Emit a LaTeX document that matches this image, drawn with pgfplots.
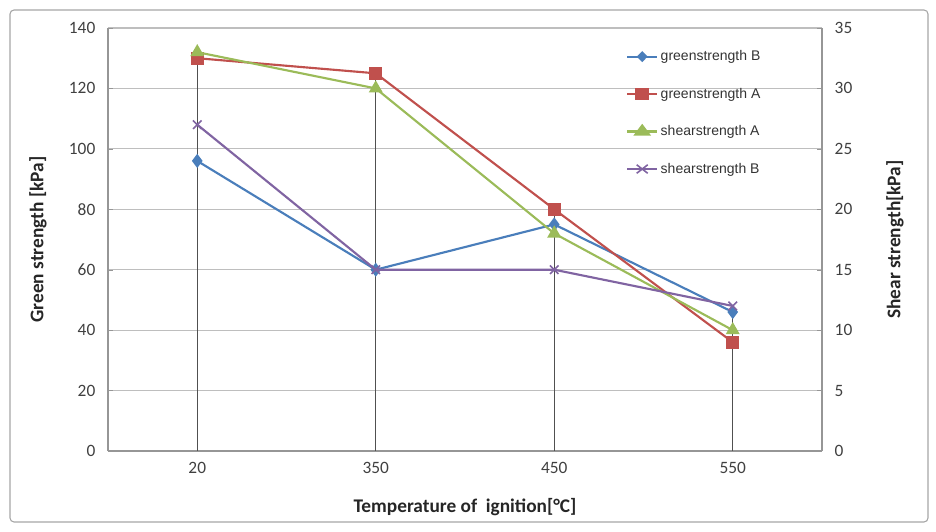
\documentclass[border=0pt]{standalone}
\usepackage{pgfplots}
\pgfplotsset{compat=1.18}
\usepackage{fontspec}
\setmainfont{Carlito}
\newfontfamily\legfont{Liberation Sans}
\definecolor{cblue}{RGB}{74,126,187}
\definecolor{cred}{RGB}{192,80,77}
\definecolor{cgreen}{RGB}{155,187,89}
\definecolor{cpurple}{RGB}{128,100,162}
\definecolor{gridc}{RGB}{190,190,190}
\definecolor{axc}{RGB}{150,150,150}
\definecolor{dropc}{RGB}{80,80,80}
\begin{document}
\begin{tikzpicture}
\path[use as bounding box] (0,0) rectangle (702pt,399pt);
\draw[rounded corners=3pt, color=gray!70, line width=0.8pt] (7.5pt,7.5pt) rectangle (696pt,391.5pt);
\pgfplotsset{
  every axis/.append style={
    scale only axis, width=535.5pt, height=317.25pt,
    at={(81pt,60.75pt)}, anchor=south west,
    xmin=-0.5, xmax=3.5,
    xtick={0,1,2,3}, xticklabels={20,350,450,550},
    tick style={draw=axc}, major tick length=4pt,
    tick label style={font=\fontsize{13}{15}\selectfont, text=black!75},
    /pgf/number format/assume math mode=true,
    axis line style={draw=axc, line width=0.8pt},
    clip=false,
  }
}
\begin{axis}[
  ymin=0, ymax=140, ytick={0,20,...,140},
  axis y line*=left, axis x line*=bottom,
  ymajorgrids, major grid style={gridc, line width=0.8pt},
  xtick style={draw=none},
  xlabel={\textbf{Temperature of\ \ ignition[°C]}},
  ylabel={\textbf{Green strength [kPa]}},
  label style={font=\fontsize{14.5}{16}\selectfont, text=black!85},
  xlabel style={at={(axis description cs:0.5,-0.132)}, anchor=center},
  ylabel style={at={(axis description cs:-0.098,0.5)}, anchor=center},
  xticklabel style={yshift=-5pt},
  yticklabel style={xshift=-6pt},
]
% drop lines
\addplot[ycomb, dropc, line width=1.0pt, mark=none, forget plot] coordinates {(0,132) (1,125) (2,80) (3,48)};
% greenstrength B
\addplot[cblue, line width=1.6pt, mark=diamond*, mark size=4pt, mark options={fill=cblue, draw=cblue}] coordinates {(0,96) (1,60) (2,75) (3,46)};
% greenstrength A
\addplot[cred, line width=1.6pt, mark=square*, mark size=4pt, mark options={fill=cred, draw=cred}] coordinates {(0,130) (1,125) (2,80) (3,36)};
\end{axis}
\begin{axis}[
  ymin=0, ymax=35, ytick={0,5,...,35},
  axis y line*=right, axis x line=none,
  xtick=\empty,
  ylabel={\textbf{Shear strength[kPa]}},
  label style={font=\fontsize{14.5}{16}\selectfont, text=black!85},
  ylabel style={at={(axis description cs:1.102,0.5)}, anchor=center},
  yticklabel style={xshift=6pt},
  legend style={draw=none, fill=none, at={(axis description cs:0.72,0.96)}, anchor=north west,
    font=\legfont\fontsize{10.5}{12}\selectfont, text=black!80, row sep=15pt,
    /tikz/every even column/.append style={column sep=12pt}},
  legend cell align=left,
  legend image post style={xscale=1.3},
]
\addlegendimage{cblue, line width=1.6pt, mark=diamond*, mark size=3pt, mark options={fill=cblue}}
\addlegendentry{greenstrength B}
\addlegendimage{cred, line width=1.6pt, mark=square*, mark size=3.5pt, mark options={fill=cred}}
\addlegendentry{greenstrength A}
% shearstrength A
\addplot[cgreen, line width=1.6pt, mark=triangle*, mark size=4.5pt, mark options={fill=cgreen, draw=cgreen}] coordinates {(0,33) (1,30) (2,18) (3,10)};
\addlegendentry{shearstrength A}
% shearstrength B
\addplot[cpurple, line width=1.6pt, mark=x, mark size=4.5pt, mark options={draw=cpurple, line width=1.2pt}] coordinates {(0,27) (1,15) (2,15) (3,12)};
\addlegendentry{shearstrength B}
\end{axis}
\end{tikzpicture}
\end{document}
